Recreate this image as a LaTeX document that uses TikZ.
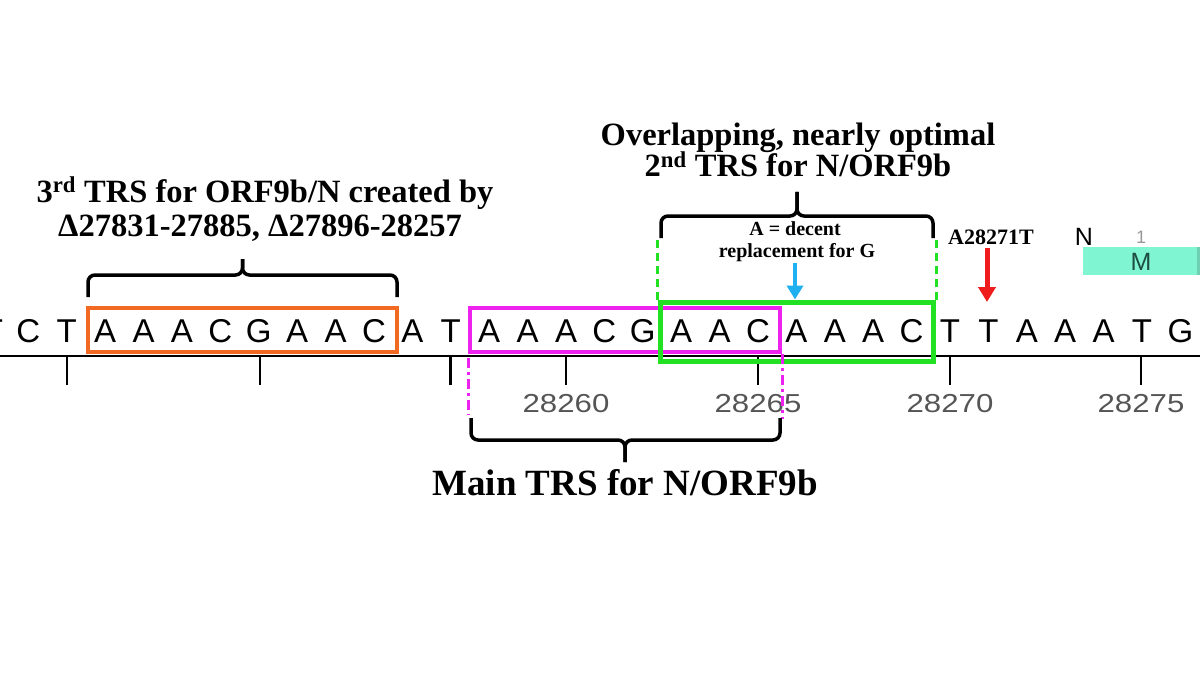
\documentclass[tikz,border=0pt]{standalone}
\usepackage{fontspec}
\setmainfont{Liberation Serif}
\newfontfamily\seqfont{Liberation Sans}
\usetikzlibrary{arrows.meta}
\definecolor{orangebox}{HTML}{F26A21}
\definecolor{magentabox}{HTML}{EE22EE}
\definecolor{greenbox}{HTML}{22E022}
\definecolor{arrowblue}{HTML}{1EB0F0}
\definecolor{arrowred}{HTML}{EE1C1C}
\definecolor{tickgray}{HTML}{555555}
\definecolor{tealbar}{HTML}{80F5D2}
\definecolor{tealtext}{HTML}{1C4E43}
\definecolor{lightgray}{HTML}{999999}
\begin{document}
\begin{tikzpicture}[x=1pt,y=-1pt,
  seq/.style={font=\seqfont\fontsize{33}{33}\selectfont, anchor=base, inner sep=0pt},
  ticklab/.style={font=\seqfont\fontsize{26}{26}\selectfont, text=tickgray, anchor=base, inner sep=0pt},
  title/.style={font=\bfseries\fontsize{32.5}{36}\selectfont, anchor=base, inner sep=0pt},
  small/.style={font=\bfseries\fontsize{20}{22}\selectfont, anchor=base, inner sep=0pt},
  bracepath/.style={line width=3.5pt, rounded corners=7pt},
  seqbox/.style={inner sep=0pt, fill=none},
  tickmark/.style={line width=2.8pt}]
\useasboundingbox (0,0) rectangle (1200,682);
\clip (0,0) rectangle (1200,682);
\fill[white] (0,0) rectangle (1200,682);

% sequence
\node[seq] (s0) at (-7,342) {T};
\foreach \ch [count=\i from 1] in {C,T,A,A,A,C,G,A,A,C,A,T,A,A,A,C,G,A,A,C,A,A,A,C,T,T,A,A,A,T,G} {
  \node[seq] (s\i) at ({566+38.4*(\i-15)},342) {\ch};
}

% axis
\coordinate (axL) at (0,356);
\coordinate (axR) at (1200,356);
\draw[line width=2.5pt] (axL) -- (axR);
\foreach \x in {67,260,450.5,566,758,950,1141} \draw[tickmark] (\x,356) -- (\x,385);
\node[ticklab] (n60) at (566,412) {\scalebox{1.2}[1]{28260}};
\node[ticklab] (n65) at (758,412) {\scalebox{1.2}[1]{28265}};
\node[ticklab] (n70) at (950,412) {\scalebox{1.2}[1]{28270}};
\node[ticklab] (n75) at (1141,412) {\scalebox{1.2}[1]{28275}};

% boxes
\node[seqbox, draw=orangebox, line width=4pt, minimum width=309pt, minimum height=44pt] (obox) at (242.5,329.5) {};
\node[seqbox, draw=magentabox, line width=4pt, minimum width=310pt, minimum height=44pt] (mbox) at (625,330) {};
\node[seqbox, draw=greenbox, line width=5pt, minimum width=273.5pt, minimum height=59pt] (gbox) at (796.75,331.5) {};

% magenta dash-dot guides
\draw[magentabox, line width=3pt, dash pattern=on 10pt off 4pt on 3pt off 4pt] (mbox.south west) ++(0,4) -- ++(0,57);
\draw[magentabox, line width=3pt, dash pattern=on 10pt off 4pt on 3pt off 4pt] (mbox.south east) -- ++(0,65);

% green dashed guides
\draw[greenbox, line width=3pt, dash pattern=on 8pt off 5pt] (gbox.north west) -- ++(0,-62);
\draw[greenbox, line width=3pt, dash pattern=on 8pt off 5pt] (gbox.north east) -- ++(0,-62);

% braces
\draw[bracepath] (88,297) -- (88,275) -- (242.5,275) -- (242.5,259);
\draw[bracepath] (242.5,259) -- (242.5,275) -- (397,275) -- (397,297);
\draw[bracepath] (661,238) -- (661,216) -- (797,216) -- (797,192);
\draw[bracepath] (797,192) -- (797,216) -- (933,216) -- (933,238);
\draw[bracepath] (471,418) -- (471,440) -- (625,440) -- (625,462);
\draw[bracepath] (625,462) -- (625,440) -- (780,440) -- (780,418);

% arrows
\coordinate (bluetail) at (795,263);
\draw[arrowblue, line width=4pt, -{Triangle[width=16pt,length=14pt]}] (bluetail) -- (bluetail |- gbox.north);
\coordinate (redtail) at (987,248);
\coordinate (redhead) at (987,302);
\draw[arrowred, line width=5pt, -{Triangle[width=17pt,length=15pt]}] (redtail) -- (redhead);

% labels
\node[title] (l3a) at (265,202) {3\textsuperscript{rd} TRS for ORF9b/N created by};
\node[title] (l3b) at (260,236) {Δ27831-27885, Δ27896-28257};
\node[title] (l2a) at (798,146) {Overlapping, nearly optimal};
\node[title] (l2b) at (798,177) {2\textsuperscript{nd} TRS for N/ORF9b};
\node[small] (la) at (795,235) {A = decent};
\node[small] (lb) at (797,257) {replacement for G};
\node[font=\bfseries\fontsize{22}{22}\selectfont, anchor=base, inner sep=0pt] (mut) at (991,244) {A28271T};
\node[font=\bfseries\fontsize{37}{40}\selectfont, anchor=base, inner sep=0pt] (lmain) at (625,495) {Main TRS for N/ORF9b};

% N / M annotation
\fill[tealbar] (1083,247) rectangle (1197,275);
\fill[tealbar!85!black] (1197,247) rectangle (1200,275);
\node[font=\seqfont\fontsize{25}{25}\selectfont, anchor=base, inner sep=0pt] (nlab) at (1084,245) {N};
\node[font=\seqfont\fontsize{18}{18}\selectfont, text=lightgray, anchor=base, inner sep=0pt] (one) at (1141,243) {1};
\node[font=\seqfont\fontsize{25}{25}\selectfont, text=tealtext, anchor=base, inner sep=0pt] (mlab) at (1141,270) {M};
\end{tikzpicture}
\end{document}
